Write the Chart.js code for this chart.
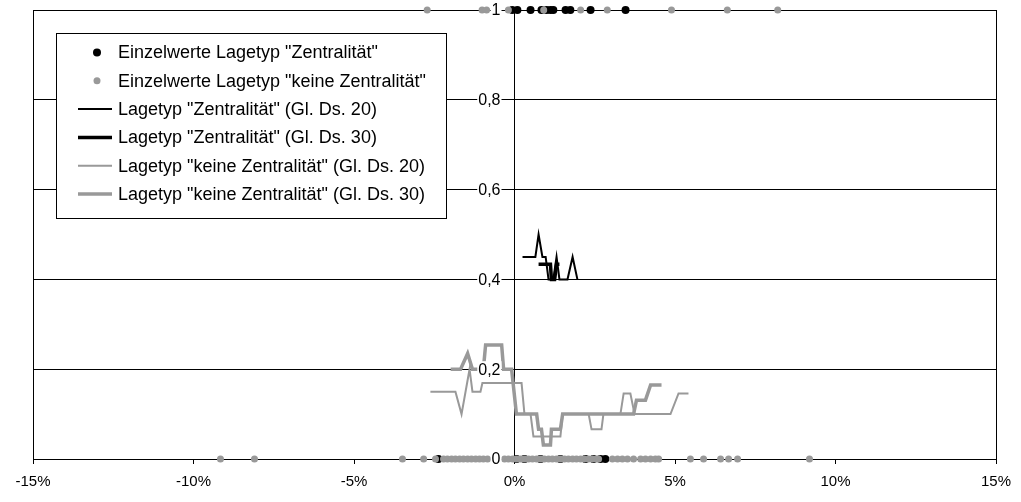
<!DOCTYPE html>
<html>
<head>
<meta charset="utf-8">
<script src="https://cdn.jsdelivr.net/npm/chart.js@4"></script>
<style>
html, body { margin: 0; padding: 0; background: #fff; }
</style>
</head>
<body>
<canvas id="chart" width="1021" height="502"></canvas>
<script>
// tick labels
var xTickValues = [-15, -10, -5, 0, 5, 10, 15];
var yTickValues = [0, 0.2, 0.4, 0.6, 0.8, 1];
var yTickLabels = ['0', '0,2', '0,4', '0,6', '0,8', '1'];

// single values (x in %), y = 1 or y = 0
var zentralTopX = [-0.07, 0.09, 0.50, 0.84, 1.00, 1.12, 1.21, 1.59, 1.74, 2.37, 3.46];
var zentralBottomX = [-2.37, 0.06, 0.31, 0.81, 1.43, 2.21, 2.46, 2.68, 2.83];
var keineTopX = [-2.72, -1.01, -0.87, -0.19, 0.91, 2.06, 2.89, 4.89, 6.63, 8.20];
var keineBottomX = [-9.16, -8.10, -3.49, -2.83, -2.46, -2.21, -2.09, -1.96, -1.84, -1.71, -1.59, -1.46,
    -1.34, -1.21, -1.09, -0.97, -0.84, -0.31, -0.19, -0.06, 0.06, 0.19, 0.31, 0.44, 0.56, 0.69, 0.81,
    0.93, 1.06, 1.18, 1.31, 1.43, 1.56, 1.68, 1.81, 1.93, 2.06, 2.18, 2.31, 2.43, 2.55, 2.62, 3.05, 3.21,
    3.36, 3.52, 3.71, 3.93, 4.08, 4.24, 4.39, 4.49, 5.48, 5.89, 6.42, 6.67, 6.95, 9.19];

// moving averages
var zentral20X = [0.25, 0.65, 0.75, 0.87, 0.97, 1.06, 1.21, 1.31, 1.40, 1.65, 1.81, 1.96];
var zentral20Y = [0.45, 0.45, 0.50, 0.45, 0.45, 0.40, 0.40, 0.45, 0.40, 0.40, 0.45, 0.40];
var zentral30X = [0.75, 1.12, 1.15, 1.25, 1.31, 1.40];
var zentral30Y = [0.434, 0.434, 0.40, 0.40, 0.434, 0.434];
var keine20X = [-2.62, -1.84, -1.65, -1.40, -1.31, -1.06, -1.00, 0.22, 0.31, 0.50, 0.59, 1.43, 1.50,
    2.31, 2.40, 2.71, 2.77, 3.30, 3.40, 3.61, 3.74, 4.86, 5.11, 5.42];
var keine20Y = [0.15, 0.15, 0.10, 0.20, 0.15, 0.15, 0.169, 0.169, 0.10, 0.10, 0.05, 0.05, 0.10,
    0.10, 0.066, 0.066, 0.10, 0.10, 0.146, 0.146, 0.10, 0.10, 0.146, 0.146];
var keine30X = [-1.99, -1.68, -1.46, -1.31, -0.97, -0.90, -0.40, -0.34, -0.09, 0.06, 0.69, 0.75, 0.84,
    0.90, 1.12, 1.15, 1.43, 1.50, 3.71, 3.80, 4.08, 4.24, 4.58];
var keine30Y = [0.20, 0.20, 0.235, 0.20, 0.20, 0.254, 0.254, 0.20, 0.20, 0.10, 0.10, 0.066, 0.066,
    0.031, 0.031, 0.066, 0.066, 0.10, 0.10, 0.131, 0.131, 0.165, 0.165];

function pts(xs, ys) {
    return xs.map(function(x, i) { return { x: x, y: ys[i] }; });
}
function level(xs, y) {
    return xs.map(function(x) { return { x: x, y: y }; });
}

var GRAY = '#999999';
var FONT = '"Liberation Sans", Arial, sans-serif';

// y labels sit left of the centred axis, on white, over the data;
// legend box is drawn inside the plot area like the original
var overlay = {
    id: 'overlay',
    afterDraw: function(chart) {
        var ctx = chart.ctx;
        var ys = chart.scales.y;
        var x0 = chart.scales.x.getPixelForValue(0);
        ctx.save();
        ctx.font = '16px ' + FONT;
        ctx.textAlign = 'right';
        ctx.textBaseline = 'middle';
        yTickValues.forEach(function(v, i) {
            var py = ys.getPixelForValue(v);
            var w = ctx.measureText(yTickLabels[i]).width;
            ctx.fillStyle = '#fff';
            ctx.fillRect(x0 - 14 - w - 1, py - 8, w + 2, 16);
            ctx.fillStyle = '#000';
            ctx.fillText(yTickLabels[i], x0 - 14, py + 1);
        });

        ctx.fillStyle = '#fff';
        ctx.fillRect(56.5, 33.5, 390, 185);
        ctx.strokeStyle = '#000';
        ctx.lineWidth = 1;
        ctx.strokeRect(56.5, 33.5, 390, 185);
        ctx.font = '18px ' + FONT;
        ctx.textAlign = 'left';
        chart.data.datasets.forEach(function(ds, i) {
            var y = 52.5 + i * 28.3;
            if (ds.showLine) {
                ctx.strokeStyle = ds.borderColor;
                ctx.lineWidth = ds.borderWidth;
                ctx.beginPath();
                ctx.moveTo(78, y);
                ctx.lineTo(112, y);
                ctx.stroke();
            } else {
                ctx.fillStyle = ds.backgroundColor;
                ctx.beginPath();
                ctx.arc(97, y, ds.pointRadius, 0, Math.PI * 2);
                ctx.fill();
            }
            ctx.fillStyle = '#000';
            ctx.fillText(ds.label, 118, y + 1);
        });
        ctx.restore();
    }
};

Chart.defaults.font.family = FONT;
Chart.defaults.font.size = 15;
Chart.defaults.color = '#000';

var ctx = document.getElementById('chart').getContext('2d');
var myChart = new Chart(ctx, {
    type: 'scatter',
    data: {
        datasets: [{
            label: 'Einzelwerte Lagetyp "Zentralität"',
            data: level(zentralTopX, 1).concat(level(zentralBottomX, 0)),
            backgroundColor: '#000', borderColor: '#000',
            pointRadius: 4, pointBorderWidth: 0, showLine: false, clip: false, order: 2
        }, {
            label: 'Einzelwerte Lagetyp "keine Zentralität"',
            data: level(keineTopX, 1).concat(level(keineBottomX, 0)),
            backgroundColor: GRAY, borderColor: GRAY,
            pointRadius: 3.5, pointBorderWidth: 0, showLine: false, clip: false, order: 1
        }, {
            label: 'Lagetyp "Zentralität" (Gl. Ds. 20)',
            data: pts(zentral20X, zentral20Y),
            borderColor: '#000', borderWidth: 2, showLine: true, pointRadius: 0, order: 0
        }, {
            label: 'Lagetyp "Zentralität" (Gl. Ds. 30)',
            data: pts(zentral30X, zentral30Y),
            borderColor: '#000', borderWidth: 3.5, showLine: true, pointRadius: 0, order: 0
        }, {
            label: 'Lagetyp "keine Zentralität" (Gl. Ds. 20)',
            data: pts(keine20X, keine20Y),
            borderColor: GRAY, borderWidth: 2, showLine: true, pointRadius: 0, order: 0
        }, {
            label: 'Lagetyp "keine Zentralität" (Gl. Ds. 30)',
            data: pts(keine30X, keine30Y),
            borderColor: GRAY, borderWidth: 3.5, showLine: true, pointRadius: 0, order: 0
        }]
    },
    options: {
        responsive: false,
        animation: false,
        layout: { padding: { left: 33, right: 25, top: 10, bottom: 0 } },
        plugins: { legend: { display: false }, tooltip: { enabled: false } },
        scales: {
            x: {
                type: 'linear', min: -15, max: 15,
                afterBuildTicks: function(s) { s.ticks = xTickValues.map(function(v) { return { value: v }; }); },
                afterFit: function(s) { s.height = 43; },
                ticks: { callback: function(v) { return v + '%'; }, padding: 9, maxRotation: 0 },
                grid: {
                    color: function(c) { return (c.tick && Math.abs(c.tick.value) === 15) ? '#000' : 'rgba(0,0,0,0)'; },
                    tickColor: '#000', tickLength: 5, lineWidth: 1
                },
                border: { color: '#000', width: 1 }
            },
            y: {
                type: 'linear', min: 0, max: 1,
                position: { x: 0 },
                afterBuildTicks: function(s) { s.ticks = yTickValues.map(function(v) { return { value: v }; }); },
                ticks: { display: false },
                grid: { color: '#000', tickColor: '#000', tickLength: 8, lineWidth: 1 },
                border: { color: '#000', width: 1 }
            }
        }
    },
    plugins: [overlay]
});
</script>
</body>
</html>
